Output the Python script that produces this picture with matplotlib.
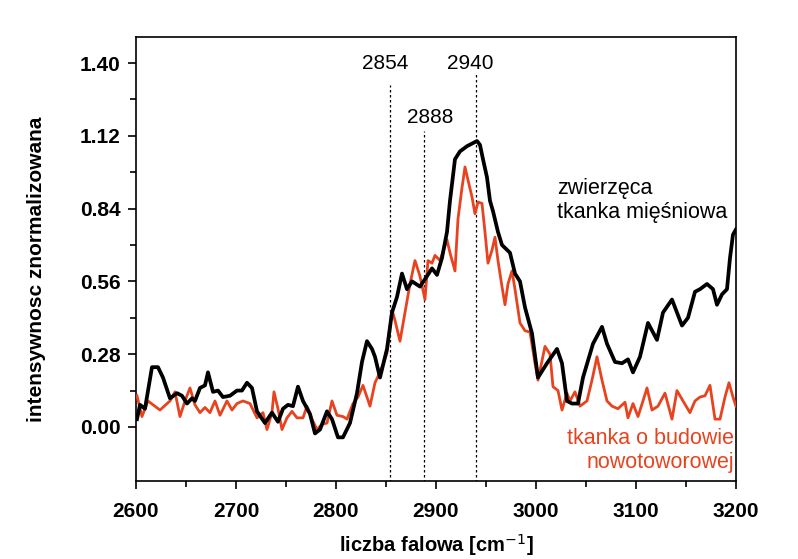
import matplotlib.pyplot as plt

plt.rcParams['font.family'] = ['Liberation Sans', 'DejaVu Sans']

# black curve: zwierzeca tkanka miesniowa
wn_black = [2601, 2604, 2609, 2616, 2622, 2627, 2634, 2641, 2646, 2651, 2656, 2659,
            2664, 2669, 2672, 2677, 2682, 2687, 2694, 2701, 2706, 2711, 2716, 2721,
            2729, 2736, 2742, 2747, 2752, 2757, 2762, 2767, 2774, 2779, 2784, 2791,
            2796, 2802, 2807, 2814, 2821, 2826, 2831, 2836, 2839, 2844, 2851, 2856,
            2861, 2866, 2871, 2876, 2884, 2891, 2896, 2901, 2906, 2911, 2914, 2919,
            2924, 2931, 2936, 2941, 2944, 2947, 2951, 2954, 2957, 2962, 2966, 2974,
            2979, 2984, 2989, 2996, 3002, 3011, 3021, 3026, 3031, 3036, 3042, 3047,
            3057, 3066, 3071, 3079, 3086, 3092, 3097, 3104, 3112, 3121, 3127, 3136,
            3146, 3152, 3159, 3164, 3171, 3177, 3181, 3186, 3191, 3194, 3197, 3200]
int_black = [0.03, 0.085, 0.07, 0.23, 0.23, 0.19, 0.11, 0.13, 0.12, 0.09, 0.11, 0.10,
             0.15, 0.16, 0.21, 0.135, 0.14, 0.115, 0.12, 0.14, 0.14, 0.17, 0.15, 0.06,
             0.015, 0.055, 0.02, 0.07, 0.085, 0.08, 0.155, 0.10, 0.05, -0.025, -0.01, 0.06,
             0.03, -0.04, -0.04, 0.015, 0.13, 0.25, 0.33, 0.30, 0.27, 0.19, 0.30, 0.44,
             0.50, 0.59, 0.53, 0.56, 0.54, 0.58, 0.61, 0.585, 0.65, 0.75, 0.87, 1.03,
             1.06, 1.08, 1.09, 1.10, 1.085, 1.03, 0.96, 0.87, 0.83, 0.75, 0.70, 0.67,
             0.59, 0.56, 0.46, 0.36, 0.19, 0.245, 0.30, 0.245, 0.10, 0.09, 0.09, 0.19,
             0.32, 0.385, 0.32, 0.25, 0.245, 0.26, 0.21, 0.27, 0.40, 0.335, 0.44, 0.49,
             0.39, 0.42, 0.52, 0.53, 0.55, 0.53, 0.47, 0.51, 0.53, 0.65, 0.74, 0.76]

# red curve: tkanka o budowie nowotoworowej
wn_red = [2601, 2606, 2612, 2624, 2634, 2639, 2644, 2649, 2654, 2659, 2664, 2669,
          2674, 2679, 2684, 2691, 2696, 2701, 2707, 2714, 2721, 2727, 2731, 2736,
          2738, 2742, 2746, 2751, 2756, 2761, 2767, 2771, 2776, 2781, 2786, 2791,
          2796, 2801, 2807, 2811, 2817, 2822, 2827, 2834, 2839, 2844, 2851, 2856,
          2859, 2864, 2869, 2874, 2879, 2884, 2889, 2892, 2896, 2899, 2904, 2911,
          2914, 2919, 2922, 2926, 2929, 2932, 2936, 2939, 2942, 2946, 2949, 2952,
          2956, 2959, 2962, 2966, 2969, 2972, 2976, 2979, 2984, 2989, 2994, 2999,
          3002, 3009, 3014, 3017, 3022, 3026, 3031, 3034, 3039, 3044, 3051, 3056,
          3061, 3066, 3071, 3076, 3082, 3089, 3092, 3097, 3102, 3107, 3111, 3116,
          3122, 3129, 3136, 3141, 3147, 3154, 3159, 3164, 3169, 3174, 3179, 3184,
          3189, 3193, 3197, 3200]
int_red = [0.12, 0.04, 0.10, 0.065, 0.10, 0.135, 0.04, 0.10, 0.15, 0.085, 0.055, 0.075,
           0.055, 0.10, 0.045, 0.10, 0.065, 0.09, 0.10, 0.09, 0.035, 0.055, -0.01, 0.055,
           0.135, 0.07, -0.01, 0.035, 0.06, 0.035, 0.035, 0.08, 0.03, -0.01, 0.01, 0.015,
           0.10, 0.045, 0.04, 0.03, 0.09, 0.115, 0.16, 0.08, 0.17, 0.21, 0.285, 0.45,
           0.41, 0.33, 0.44, 0.55, 0.64, 0.58, 0.49, 0.64, 0.63, 0.66, 0.64, 0.72,
           0.67, 0.60, 0.80, 0.92, 1.00, 0.95, 0.885, 0.82, 0.865, 0.86, 0.75, 0.63,
           0.68, 0.73, 0.64, 0.54, 0.47, 0.55, 0.60, 0.53, 0.40, 0.37, 0.365, 0.245,
           0.18, 0.31, 0.28, 0.155, 0.14, 0.065, 0.13, 0.10, 0.135, 0.08, 0.10, 0.18,
           0.27, 0.18, 0.10, 0.08, 0.07, 0.095, 0.035, 0.09, 0.04, 0.10, 0.15, 0.065,
           0.08, 0.13, 0.03, 0.14, 0.10, 0.055, 0.10, 0.115, 0.12, 0.16, 0.03, 0.03,
           0.115, 0.17, 0.115, 0.08]

peaks = [2854, 2888, 2940]
peak_line_top = [1.315, 1.14, 1.365]
peak_label_pos = [(2849, 1.40), (2894, 1.19), (2934, 1.40)]

yticks = [0.00, 0.28, 0.56, 0.84, 1.12, 1.40]

fig = plt.figure(figsize=(7.98, 5.59), dpi=100)
ax = fig.add_axes([0.1704, 0.1395, 0.7519, 0.7943])

ax.plot(wn_red, int_red, color='#e8431f', lw=2.0, zorder=3)
ax.plot(wn_black, int_black, color='black', lw=2.7, zorder=4)

ax.vlines(peaks, -0.21, peak_line_top, colors='black', linestyles=(0, (2, 2)), lw=0.9, zorder=2)
for p, (lx, ly) in zip(peaks, peak_label_pos):
    ax.text(lx, ly, str(p), ha='center', va='center', fontsize=15)

ax.text(3021, 0.87, 'zwierzęca\ntkanka mięśniowa', ha='left', va='center',
        fontsize=15.5, linespacing=1.2)
ax.text(3198, -0.092, 'tkanka o budowie\nnowotoworowej', ha='right', va='center',
        fontsize=15.5, color='#e8431f', linespacing=1.2)

ax.set_xlim(2600, 3200)
ax.set_ylim(-0.208, 1.50)
ax.set_xticks(range(2600, 3201, 100))
ax.set_xticks(range(2650, 3200, 100), minor=True)
ax.set_yticks(yticks)
ax.set_yticks([0.14, 0.42, 0.70, 0.98, 1.26], minor=True)
ax.set_yticklabels(['%.2f' % v for v in yticks])
ax.tick_params(which='major', direction='out', length=6, width=1.2, labelsize=15)
ax.tick_params(which='minor', direction='out', length=4, width=1.2)
ax.tick_params(axis='x', which='major', pad=9)
ax.tick_params(axis='y', which='major', pad=5)
for lab in ax.get_xticklabels() + ax.get_yticklabels():
    lab.set_fontweight('bold')
for s in ax.spines.values():
    s.set_linewidth(1.2)

ax.set_xlabel('liczba falowa [cm$^{-1}$]', fontsize=14.5, fontweight='bold', va='top')
ax.xaxis.set_label_coords(0.5, -0.114)
ax.set_ylabel('intensywnosc znormalizowana', fontsize=15, fontweight='bold')
ax.yaxis.set_label_coords(-0.15, 0.477)

fig.savefig('out.png', dpi=100)
